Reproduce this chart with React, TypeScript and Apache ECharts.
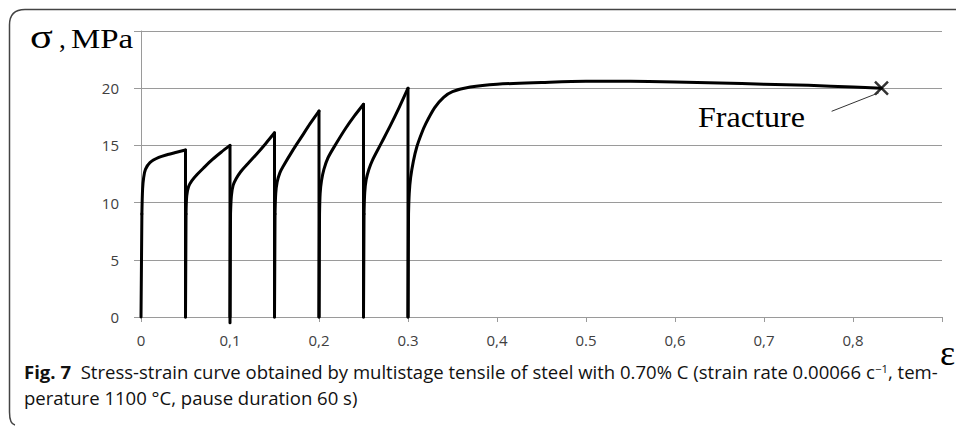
import React, { useEffect, useRef } from 'react';
import * as echarts from 'echarts';

// ---- data (strain ε, stress σ MPa) ----
const xTickLabels = ['0', '0,1', '0,2', '0.3', '0,4', '0.5', '0,6', '0,7', '0,8', ''];
const yTickValues = [0, 5, 10, 15, 20, 25];

const cycleStarts = [0, 0.05, 0.1, 0.15, 0.2, 0.25, 0.3];
const dropEnds = [0, -0.5, 0, 0, 0, 0];

const cycle1 = [[0.001, 9], [0.0018, 11.2], [0.003, 12.2], [0.005, 12.9], [0.01, 13.5], [0.02, 13.95], [0.03, 14.2], [0.04, 14.4], [0.05, 14.6]];
const cycle2 = [[0.0506, 9], [0.0514, 10.6], [0.0535, 11.4], [0.057, 11.9], [0.063, 12.45], [0.07, 13.0], [0.08, 13.75], [0.09, 14.4], [0.1, 15.0]];
const cycle3 = [[0.1006, 9], [0.1016, 10.6], [0.1035, 11.5], [0.107, 12.1], [0.112, 12.7], [0.12, 13.4], [0.13, 14.25], [0.14, 15.15], [0.15, 16.1]];
const cycle4 = [[0.1506, 9], [0.1514, 10.8], [0.153, 11.8], [0.156, 12.6], [0.16, 13.2], [0.17, 14.5], [0.18, 15.7], [0.19, 16.9], [0.2, 18.0]];
const cycle5 = [[0.2006, 9], [0.2013, 10.8], [0.2028, 11.9], [0.2055, 12.9], [0.21, 13.9], [0.22, 15.25], [0.23, 16.5], [0.24, 17.6], [0.25, 18.6]];
const cycle6 = [[0.2506, 9], [0.2514, 10.9], [0.253, 12.0], [0.256, 12.9], [0.26, 13.7], [0.27, 15.2], [0.28, 16.7], [0.29, 18.3], [0.3, 20.0]];
const cycle7 = [[0.3006, 9], [0.3014, 10.8], [0.303, 12.2], [0.306, 13.6], [0.31, 14.9], [0.315, 16.0], [0.32, 16.9], [0.33, 18.3], [0.34, 19.2], [0.35, 19.7], [0.37, 20.1], [0.4, 20.35], [0.45, 20.5], [0.5, 20.6], [0.55, 20.6], [0.6, 20.55], [0.65, 20.45], [0.7, 20.35], [0.75, 20.25], [0.8, 20.1], [0.832, 20.0]];

const cycles = [cycle1, cycle2, cycle3, cycle4, cycle5, cycle6, cycle7];
const fracturePoint = [0.832, 20.0];
const pointerLine = [[0.776, 17.98], [0.829, 19.6]];

echarts.graphic.registerShape(
  'frame',
  echarts.graphic.extendPath('M956,9.5 L25,9.5 Q9.5,9.5 9.5,25 L9.5,412 Q9.5,424 15,425', {})
);

const lineStyle = { color: '#000', width: 3, cap: 'round', join: 'round' };

function buildSeries() {
  const series: any[] = [];
  cycles.forEach((c, i) => {
    series.push({
      type: 'line', data: [[cycleStarts[i], 0], c[0]], symbol: 'none', smooth: false,
      lineStyle, clip: false, silent: true,
    });
    series.push({
      type: 'line', data: c, symbol: 'none', smooth: 0.3,
      lineStyle, clip: false, silent: true,
    });
    if (i < dropEnds.length) {
      const last = c[c.length - 1];
      series.push({
        type: 'line', data: [last, [last[0], dropEnds[i]]], symbol: 'none', smooth: false,
        lineStyle, clip: false, silent: true,
      });
    }
  });
  series.push({
    type: 'line', data: pointerLine, symbol: 'none', lineStyle: { color: '#333', width: 1 }, silent: true,
  });
  series.push({
    type: 'scatter', data: [fracturePoint], symbol: 'path://M0,0L10,10M10,0L0,10', symbolSize: 13,
    itemStyle: { color: 'rgba(0,0,0,0)', borderColor: '#000', borderWidth: 2.5 }, silent: true,
  });
  return series;
}

const sansFont = "'Open Sans', sans-serif";
const serifFont = "'Liberation Serif', serif";

export default function App() {
  const ref = useRef<HTMLDivElement>(null);
  useEffect(() => {
    document.body.style.margin = '0';
    const chart = echarts.init(ref.current!, null, { renderer: 'svg' });
    chart.setOption({
      animation: false,
      grid: { left: 141, top: 31, width: 801, height: 286, containLabel: false },
      xAxis: {
        type: 'value', min: 0, max: 0.9, interval: 0.1,
        axisLine: { show: true, lineStyle: { color: '#9a9a9a', width: 1 } },
        axisTick: { show: true, length: 5, lineStyle: { color: '#9a9a9a' } },
        splitLine: { show: false },
        axisLabel: {
          margin: 15, color: '#404040', fontSize: 15, fontFamily: sansFont,
          formatter: (v: number) => xTickLabels[Math.round(v * 10)] ?? '',
        },
      },
      yAxis: {
        type: 'value', min: yTickValues[0], max: yTickValues[yTickValues.length - 1], interval: 5,
        axisLine: { show: true, lineStyle: { color: '#9a9a9a', width: 1 } },
        axisTick: { show: true, length: 7, lineStyle: { color: '#9a9a9a' } },
        splitLine: { show: true, lineStyle: { color: '#9a9a9a', width: 1 } },
        axisLabel: {
          margin: 22, color: '#404040', fontSize: 15, fontFamily: sansFont,
          formatter: (v: number) => (v === 25 ? '' : String(v)),
        },
      },
      series: buildSeries(),
      graphic: [
        { type: 'frame', x: 0, y: 0, style: { fill: 'none', stroke: '#444', lineWidth: 1.5 }, silent: true },
        { type: 'text', x: 30, y: 37, scaleX: 1.25, style: { text: 'σ', fontSize: 34, fontFamily: serifFont, fill: '#000', verticalAlign: 'middle' } },
        { type: 'text', x: 59, y: 39, style: { text: ',', fontSize: 27, fontFamily: serifFont, fill: '#000', verticalAlign: 'middle' } },
        { type: 'text', x: 71, y: 39, scaleX: 1.22, style: { text: 'MPa', fontSize: 27, fontFamily: serifFont, fill: '#000', verticalAlign: 'middle' } },
        { type: 'text', x: 698, y: 117, scaleX: 1.07, style: { text: 'Fracture', fontSize: 30, fontFamily: serifFont, fill: '#000', verticalAlign: 'middle' } },
        { type: 'text', x: 940, y: 353, style: { text: 'ε', fontSize: 36, fontFamily: serifFont, fill: '#000', verticalAlign: 'middle' } },
        {
          type: 'text', x: 24, y: 372, scaleX: 1.03,
          style: {
            text: '{b|Fig. 7}  Stress-strain curve obtained by multistage tensile of steel with 0.70% C (strain rate 0.00066 c{sup|−1}, tem-',
            fontSize: 18, fontFamily: sansFont, fill: '#111', verticalAlign: 'middle',
            rich: {
              b: { fontWeight: 'bold', fontSize: 18, fontFamily: sansFont, fill: '#111' },
              sup: { fontSize: 11, fontFamily: sansFont, fill: '#111', verticalAlign: 'top' },
            },
          },
        },
        {
          type: 'text', x: 24, y: 398, scaleX: 1.03,
          style: { text: 'perature 1100 °C, pause duration 60 s)', fontSize: 18, fontFamily: sansFont, fill: '#111', verticalAlign: 'middle' },
        },
      ],
    });
    return () => chart.dispose();
  }, []);
  return <div ref={ref} style={{ width: 956, height: 426 }} />;
}
